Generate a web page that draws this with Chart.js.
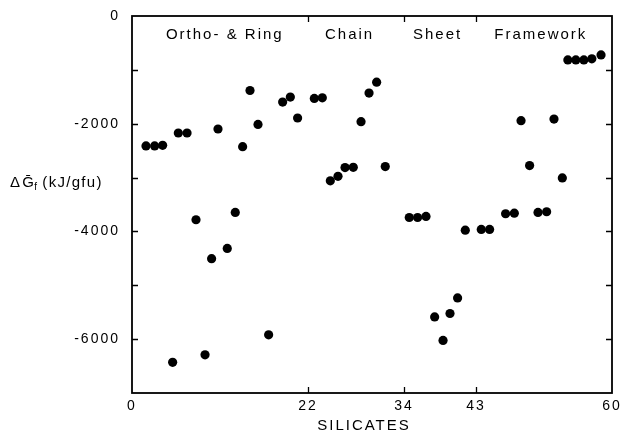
<!DOCTYPE html>
<html><head><meta charset="utf-8">
<script src="https://cdn.jsdelivr.net/npm/chart.js@4/dist/chart.umd.min.js"></script>
<style>html,body{margin:0;padding:0;background:#fff;}#c{display:block;}</style>
</head><body>
<canvas id="c" width="621" height="433"></canvas>
<script>
// ---- data ----
const xTickValues = [0, 22, 34, 43, 60];
const yLabelValues = [0, -2000, -4000, -6000];
const groupNames = ['Ortho- & Ring', 'Chain', 'Sheet', 'Framework'];

const orthoRingX = [1.75, 2.83, 3.83, 5.08, 5.79, 6.88, 8.0, 9.13, 9.95, 10.75, 11.91, 12.91, 13.83, 14.75, 15.75, 17.08, 18.83, 19.79, 20.7];
const orthoRingY = [-2413, -2413, -2402, -6431, -2172, -2172, -3783, -6291, -4506, -2098, -4315, -3648, -2426, -1383, -2013, -5920, -1598, -1506, -1894];

const chainX = [22.79, 23.79, 24.79, 25.75, 26.63, 27.66, 28.63, 29.63, 30.58, 31.66];
const chainY = [-1531, -1519, -3061, -2976, -2815, -2809, -1963, -1431, -1228, -2796];

const sheetX = [34.66, 35.7, 36.75, 37.83, 38.88, 39.75, 40.7, 41.66];
const sheetY = [-3741, -3741, -3722, -5587, -6024, -5524, -5235, -3976];

const frameworkX = [43.66, 44.7, 46.7, 47.79, 48.63, 49.7, 50.75, 51.83, 52.75, 53.79, 54.48, 55.48, 56.48, 57.48, 58.63];
const frameworkY = [-3963, -3963, -3672, -3661, -1944, -2778, -3648, -3635, -1913, -3006, -815, -815, -815, -796, -722];

const xTitle = 'SILICATES';

// ---- layout constants (not data) ----
const groupLabelX = [11.6, 27.2, 38.2, 51.1];
const FONT = '"Liberation Sans", Arial, Helvetica, sans-serif';

function pts(xs, ys) { return xs.map((x, i) => ({ x: x, y: ys[i] })); }
function ds(label, xs, ys) {
  return { label, data: pts(xs, ys), backgroundColor: '#000', borderColor: '#000', borderWidth: 0, pointRadius: 4.6, pointHoverRadius: 4.6 };
}

const decor = {
  id: 'decor',
  beforeDraw(chart) { chart.ctx.letterSpacing = '2px'; },
  afterDraw(chart) {
    const { ctx, chartArea: a, scales: { x, y } } = chart;
    ctx.save();
    ctx.strokeStyle = '#000';
    ctx.lineWidth = 1.8;
    ctx.strokeRect(a.left, a.top, a.right - a.left, a.bottom - a.top);
    ctx.lineWidth = 1.3;
    ctx.beginPath();
    y.ticks.forEach(t => {
      if (t.value <= -7000 || t.value >= 0) return;
      const py = Math.round(y.getPixelForValue(t.value)) + 0.5;
      ctx.moveTo(a.left, py); ctx.lineTo(a.left + 6, py);
      ctx.moveTo(a.right, py); ctx.lineTo(a.right - 6, py);
    });
    xTickValues.forEach(v => {
      if (v === 0 || v === 60) return;
      const px = Math.round(x.getPixelForValue(v)) + 0.5;
      ctx.moveTo(px, a.bottom); ctx.lineTo(px, a.bottom - 6);
      ctx.moveTo(px, a.top); ctx.lineTo(px, a.top + 6);
    });
    ctx.stroke();

    ctx.fillStyle = '#000';
    ctx.letterSpacing = '2px';
    ctx.font = '15px ' + FONT;
    ctx.textAlign = 'center';
    ctx.textBaseline = 'middle';
    groupNames.forEach((n, i) => ctx.fillText(n, x.getPixelForValue(groupLabelX[i]), 35));

    // x-axis title
    ctx.fillText(xTitle, x.getPixelForValue(29.0), 426);

    // y-axis title, horizontal
    ctx.textAlign = 'left';
    ctx.textBaseline = 'alphabetic';
    ctx.letterSpacing = '1.3px';
    ctx.font = '15px ' + FONT;
    let cx = 10;
    const base = 187;
    ctx.fillText('\u0394', cx, base); cx += ctx.measureText('\u0394').width + 1;
    ctx.fillText('\u1E20', cx, base); cx += ctx.measureText('\u1E20').width - 1;
    ctx.font = '10px ' + FONT;
    ctx.fillText('f', cx, base + 3); cx += ctx.measureText('f').width + 4;
    ctx.font = '15px ' + FONT;
    ctx.fillText('(kJ/gfu)', cx, base);
    ctx.restore();
  }
};

new Chart(document.getElementById('c'), {
  type: 'scatter',
  data: {
    datasets: [
      ds(groupNames[0], orthoRingX, orthoRingY),
      ds(groupNames[1], chainX, chainY),
      ds(groupNames[2], sheetX, sheetY),
      ds(groupNames[3], frameworkX, frameworkY)
    ]
  },
  options: {
    responsive: false,
    animation: false,
    events: [],
    layout: { padding: { left: 0, right: 9, top: 16, bottom: 0 } },
    plugins: { legend: { display: false }, tooltip: { enabled: false } },
    scales: {
      x: {
        type: 'linear', min: 0, max: 60,
        grid: { display: false }, border: { display: false },
        afterBuildTicks: s => { s.ticks = xTickValues.map(v => ({ value: v })); },
        afterFit: s => { s.height = 40; s.paddingLeft = 0; s.paddingRight = 0; },
        ticks: { color: '#000', font: { family: FONT, size: 14 }, padding: -3, maxRotation: 0, autoSkip: false,
                 callback: v => String(v) }
      },
      y: {
        type: 'linear', min: -7000, max: 0,
        grid: { display: false }, border: { display: false },
        afterFit: s => { s.width = 132; s.paddingTop = 0; s.paddingBottom = 0; },
        ticks: { stepSize: 1000, color: '#000', font: { family: FONT, size: 14 }, padding: 4,
                 callback: v => (yLabelValues.includes(v) ? String(v) : '') }
      }
    }
  },
  plugins: [decor]
});
</script>
</body></html>
